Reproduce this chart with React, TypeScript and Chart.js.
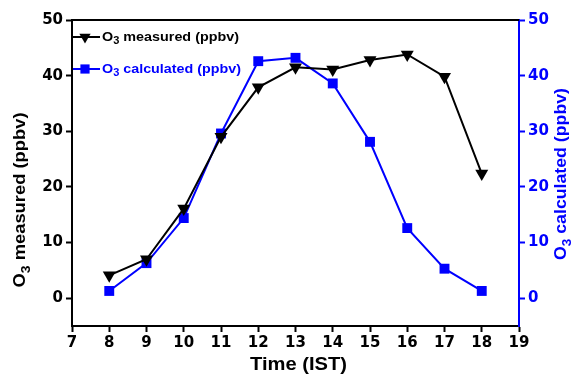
import React, { useEffect, useRef } from "react";
import { Chart, registerables } from "chart.js";

Chart.register(...registerables);

const hours = [8, 9, 10, 11, 12, 13, 14, 15, 16, 17, 18];
const measured = [4.1, 7.0, 16.1, 29.0, 37.9, 41.5, 41.1, 42.8, 43.8, 39.8, 22.4];
const calculated = [1.3, 6.3, 14.4, 29.6, 42.6, 43.2, 38.6, 28.1, 12.6, 5.3, 1.3];
const yTicks = [0, 10, 20, 30, 40, 50];
const xTicks = [7, 8, 9, 10, 11, 12, 13, 14, 15, 16, 17, 18, 19];

const FONT = "'Liberation Sans', Arial, sans-serif";
const TICKFONT = "'DejaVu Sans', sans-serif";
const BLUE = "#0000ff";

function drawSubText(
  ctx: CanvasRenderingContext2D,
  parts: [string, boolean][],
  x: number,
  y: number,
  size: number,
  color: string,
  align: "left" | "center",
  targetWidth: number
) {
  let total = 0;
  const widths: number[] = [];
  for (const [t, sub] of parts) {
    ctx.font = `bold ${sub ? Math.round(size * 0.75) : size}px ${FONT}`;
    const w = ctx.measureText(t).width;
    widths.push(w);
    total += w;
  }
  const sx = targetWidth / total;
  ctx.save();
  ctx.translate(x, y);
  ctx.scale(sx, 1);
  let cx = align === "center" ? -total / 2 : 0;
  ctx.fillStyle = color;
  ctx.textBaseline = "middle";
  ctx.textAlign = "left";
  parts.forEach(([t, sub], i) => {
    ctx.font = `bold ${sub ? Math.round(size * 0.75) : size}px ${FONT}`;
    ctx.fillText(t, cx, sub ? size * 0.35 : 0);
    cx += widths[i];
  });
  ctx.restore();
}

function drawPointLocal(ctx: CanvasRenderingContext2D, style: string, r: number, x: number, y: number, rot: number, color: string) {
  ctx.save();
  ctx.translate(x, y);
  ctx.rotate((rot * Math.PI) / 180);
  ctx.fillStyle = color;
  ctx.beginPath();
  if (style === "triangle") {
    for (let i = 0; i < 3; i++) {
      const ang = -Math.PI / 2 + (i * 2 * Math.PI) / 3;
      const px = Math.cos(ang) * r;
      const py = Math.sin(ang) * r;
      if (i === 0) ctx.moveTo(px, py);
      else ctx.lineTo(px, py);
    }
    ctx.closePath();
  } else {
    const s = r / Math.SQRT2;
    ctx.rect(-s, -s, 2 * s, 2 * s);
  }
  ctx.fill();
  ctx.restore();
}

const decorPlugin = {
  id: "decor",
  afterDraw(chart: any) {
    const ctx: CanvasRenderingContext2D = chart.ctx;
    const a = chart.chartArea;
    ctx.save();
    ctx.strokeStyle = "#000";
    ctx.lineWidth = 2;
    ctx.beginPath();
    ctx.moveTo(a.left, a.top);
    ctx.lineTo(a.right, a.top);
    ctx.stroke();

    drawSubText(ctx, [["Time (IST)", false]], 298.5, 365, 18, "#000", "center", 97);

    ctx.save();
    ctx.translate(20, 200);
    ctx.rotate(-Math.PI / 2);
    drawSubText(ctx, [["O", false], ["3", true], [" measured (ppbv)", false]], 0, 0, 17, "#000", "center", 175);
    ctx.restore();

    ctx.save();
    ctx.translate(561, 174);
    ctx.rotate(-Math.PI / 2);
    drawSubText(ctx, [["O", false], ["3", true], [" calculated (ppbv)", false]], 0, 0, 17, BLUE, "center", 172);
    ctx.restore();

    const items = [
      { y: 37, color: "#000", style: "triangle", rot: 180, text: " measured (ppbv)", r: 6.5, w: 137 },
      { y: 69, color: BLUE, style: "rect", rot: 0, text: " calculated (ppbv)", r: 6.5, w: 139 },
    ];
    for (const it of items) {
      ctx.strokeStyle = it.color;
      ctx.lineWidth = 2;
      ctx.beginPath();
      ctx.moveTo(a.left + 1, it.y);
      ctx.lineTo(a.left + 28, it.y);
      ctx.stroke();
      drawPointLocal(ctx, it.style, it.r, a.left + 13, it.y, it.rot, it.color);
      drawSubText(ctx, [["O", false], ["3", true], [it.text, false]], a.left + 30, it.y, 13, it.color, "left", it.w);
    }
    ctx.restore();
  },
};

export default function App() {
  const ref = useRef<HTMLCanvasElement | null>(null);
  useEffect(() => {
    document.body.style.margin = "0";
    const tickFont = { family: TICKFONT, size: 15, weight: "bold" };
    const chart = new Chart(ref.current!, {
      type: "line",
      data: {
        datasets: [
          {
            label: "O3 measured (ppbv)",
            data: hours.map((h, i) => ({ x: h, y: measured[i] })),
            borderColor: "#000",
            backgroundColor: "#000",
            borderWidth: 2,
            pointStyle: "triangle",
            rotation: 180,
            pointRadius: 7.5,
            pointBorderWidth: 0,
            yAxisID: "y",
          },
          {
            label: "O3 calculated (ppbv)",
            data: hours.map((h, i) => ({ x: h, y: calculated[i] })),
            borderColor: BLUE,
            backgroundColor: BLUE,
            borderWidth: 2,
            pointStyle: "rect",
            pointRadius: 7,
            pointBorderWidth: 0,
            yAxisID: "y2",
          },
        ],
      },
      options: {
        animation: false,
        responsive: false,
        layout: { padding: { top: 20, left: 0, right: 0, bottom: 0 } },
        plugins: { legend: { display: false }, tooltip: { enabled: false } },
        scales: {
          x: {
            type: "linear",
            min: 7,
            max: 19,
            afterBuildTicks: (s: any) => {
              s.ticks = xTicks.map((v) => ({ value: v }));
            },
            afterFit: (s: any) => {
              s.height = 49;
            },
            grid: { display: true, drawOnChartArea: false, tickLength: 6, tickColor: "#000", tickWidth: 2 },
            border: { display: true, color: "#000", width: 2 },
            ticks: { color: "#000", font: tickFont, padding: 2, maxRotation: 0, autoSkip: false },
          },
          y: {
            position: "left",
            min: -5,
            max: 50,
            afterBuildTicks: (s: any) => {
              s.ticks = yTicks.map((v) => ({ value: v }));
            },
            afterFit: (s: any) => {
              s.width = 72;
            },
            grid: { display: true, drawOnChartArea: false, tickLength: 6, tickColor: "#000", tickWidth: 2 },
            border: { display: true, color: "#000", width: 2 },
            ticks: { color: "#000", font: tickFont, padding: 3 },
          },
          y2: {
            position: "right",
            min: -5,
            max: 50,
            afterBuildTicks: (s: any) => {
              s.ticks = yTicks.map((v) => ({ value: v }));
            },
            afterFit: (s: any) => {
              s.width = 55;
            },
            grid: { display: true, drawOnChartArea: false, tickLength: 6, tickColor: BLUE, tickWidth: 2 },
            border: { display: true, color: BLUE, width: 2 },
            ticks: { color: BLUE, font: tickFont, padding: 3 },
          },
        },
      } as any,
      plugins: [decorPlugin],
    });
    return () => chart.destroy();
  }, []);
  return <canvas ref={ref} width={574} height={375} style={{ display: "block" }} />;
}
